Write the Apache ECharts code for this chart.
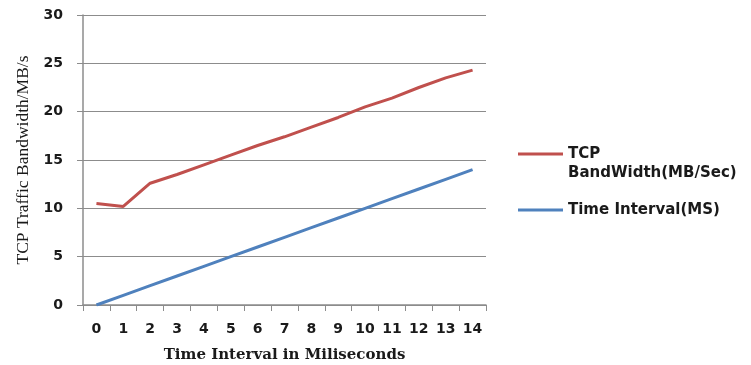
<!DOCTYPE html>
<html>
<head>
<meta charset="utf-8">
<script src="https://cdn.jsdelivr.net/npm/echarts@6/dist/echarts.min.js"></script>
<style>
  html, body { margin: 0; padding: 0; background: #fff; }
  #chart { width: 751px; height: 365px; }
</style>
</head>
<body>
<div id="chart"></div>
<script>
// Time steps along the x axis (milliseconds)
const categories = ['0','1','2','3','4','5','6','7','8','9','10','11','12','13','14'];
// Measured TCP bandwidth per step (MB/s)
const tcpBandwidth = [10.5, 10.2, 12.6, 13.5, 14.5, 15.5, 16.5, 17.4, 18.4, 19.4, 20.5, 21.4, 22.5, 23.5, 24.3];
// Time interval per step (ms)
const timeInterval = [0, 1, 2, 3, 4, 5, 6, 7, 8, 9, 10, 11, 12, 13, 14];
const seriesNames = ['TCP BandWidth(MB/Sec)', 'Time Interval(MS)'];

const chart = echarts.init(document.getElementById('chart'), null, { renderer: 'canvas' });
const labelFont = 'DejaVu Sans, Verdana, sans-serif';
const serifFont = 'Liberation Serif, Times New Roman, serif';
const wideSerif = 'DejaVu Serif, serif';
const ink = '#1a1a1a';
const gridGray = '#8c8c8c';

chart.setOption({
  animation: false,
  backgroundColor: '#ffffff',
  grid: { left: 83, right: 265, top: 15, bottom: 60, outerBoundsMode: 'none', containLabel: false },
  xAxis: {
    type: 'category',
    data: categories,
    boundaryGap: true,
    name: 'Time Interval in Miliseconds',
    nameLocation: 'middle',
    nameGap: 43,
    nameTextStyle: { fontFamily: wideSerif, fontWeight: 'bold', fontSize: 15, color: ink },
    axisLine: { lineStyle: { color: gridGray, width: 1.5 } },
    axisTick: { show: true, length: 6, lineStyle: { color: gridGray } },
    axisLabel: { fontFamily: labelFont, fontWeight: 'bold', fontSize: 14, color: ink, margin: 17, interval: 0 },
    splitLine: { show: false }
  },
  yAxis: {
    type: 'value',
    min: 0, max: 30, interval: 5,
    name: 'TCP Traffic Bandwidth/MB/s',
    nameLocation: 'middle',
    nameGap: 50,
    nameTextStyle: { fontFamily: serifFont, fontSize: 17.5, color: ink },
    axisLine: { show: true, lineStyle: { color: gridGray, width: 1.5 } },
    axisTick: { show: true, length: 6, lineStyle: { color: gridGray } },
    axisLabel: { fontFamily: labelFont, fontWeight: 'bold', fontSize: 14, color: ink, margin: 20 },
    splitLine: { show: true, lineStyle: { color: gridGray, width: 1.2 } }
  },
  legend: {
    orient: 'vertical',
    left: 518,
    top: 144,
    padding: 0,
    itemWidth: 45,
    itemHeight: 3,
    itemGap: 36,
    icon: 'rect',
    data: seriesNames,
    // first entry shows only its first word; the rest sits on the next line below
    formatter: name => name.split(' ')[0] === 'TCP' ? 'TCP' : name,
    textStyle: { fontFamily: labelFont, fontWeight: 'bold', fontSize: 15, color: ink, lineHeight: 20 }
  },
  graphic: [{
    type: 'text',
    left: 568,
    top: 166,
    style: {
      text: 'BandWidth(MB/Sec)',
      font: 'bold 15px DejaVu Sans, Verdana, sans-serif',
      fill: ink
    }
  }],
  series: [
    {
      name: seriesNames[0],
      type: 'line',
      data: tcpBandwidth,
      symbol: 'none',
      color: '#C0504D',
      lineStyle: { color: '#C0504D', width: 3 }
    },
    {
      name: seriesNames[1],
      type: 'line',
      data: timeInterval,
      symbol: 'none',
      color: '#4F81BD',
      lineStyle: { color: '#4F81BD', width: 3 }
    }
  ]
});
</script>
</body>
</html>
